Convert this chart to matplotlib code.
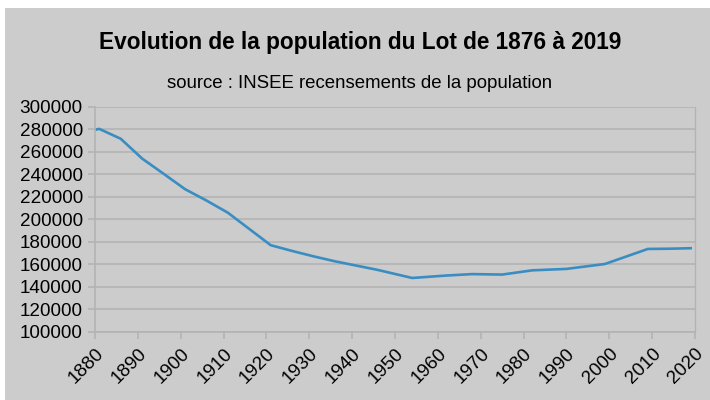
import matplotlib.pyplot as plt
from matplotlib.patches import Rectangle

# Population du Lot (recensements INSEE)
years = [1876, 1881, 1886, 1891, 1896, 1901, 1906, 1911, 1921, 1926, 1931, 1936,
         1946, 1954, 1962, 1968, 1975, 1982, 1990, 1999, 2009, 2014, 2019]
population = [276512, 280269, 271514, 253885, 240403, 226720, 216611, 205769,
              176889, 171776, 166980, 162572, 154897, 147754, 149929, 151198,
              150778, 154533, 155816, 160197, 173562, 173758, 174208]

x_ticks = list(range(1880, 2021, 10))
y_ticks = list(range(100000, 300001, 20000))

TITLE = "Evolution de la population du Lot de 1876 à 2019"
SUBTITLE = "source : INSEE recensements de la population"

plt.rcParams["font.family"] = ["Liberation Sans", "DejaVu Sans"]

BG = "#cccccc"
GRID = "#b3b3b3"
LINE = "#3a8dc2"

fig = plt.figure(figsize=(7.1, 4.0), dpi=100)
fig.patch.set_facecolor("white")
# grey chart area (white margin at top and left)
fig.patches.append(Rectangle((5 / 710, 0), 705 / 710, 392 / 400,
                             transform=fig.transFigure, facecolor=BG,
                             edgecolor="none", zorder=-1))

ax = fig.add_axes([95 / 710, 1 - 331.7 / 400, 600 / 710, 225 / 400])
ax.set_facecolor(BG)

ax.plot(years, population, color=LINE, linewidth=1.9, solid_joinstyle="round",
        clip_on=True)

ax.set_xlim(1880, 2020)
ax.set_ylim(100000, 300000)
ax.set_xticks(x_ticks)
ax.set_yticks(y_ticks)
ax.set_xticklabels([str(v) for v in x_ticks], rotation=45, ha="right",
                   rotation_mode="anchor")
ax.set_yticklabels([str(v) for v in y_ticks])

ax.grid(axis="y", color=GRID, linewidth=1.2)
ax.set_axisbelow(True)
for s in ax.spines.values():
    s.set_color(GRID)
    s.set_linewidth(1.2)
ax.spines["top"].set_visible(False)
ax.spines["right"].set_linewidth(1.0)

ax.tick_params(axis="both", colors=GRID, labelcolor="black", labelsize=13.6,
               length=4.8, width=1.2)
ax.tick_params(axis="y", pad=4)
ax.tick_params(axis="x", pad=5)

fig.text(360 / 710, 1 - 42 / 400, TITLE, ha="center", va="center",
         fontsize=16.3, fontweight="bold")
fig.text(360 / 710, 1 - 84 / 400, SUBTITLE, ha="center", va="center",
         fontsize=13.4)

fig.savefig("out.png", dpi=100, facecolor=fig.get_facecolor())
